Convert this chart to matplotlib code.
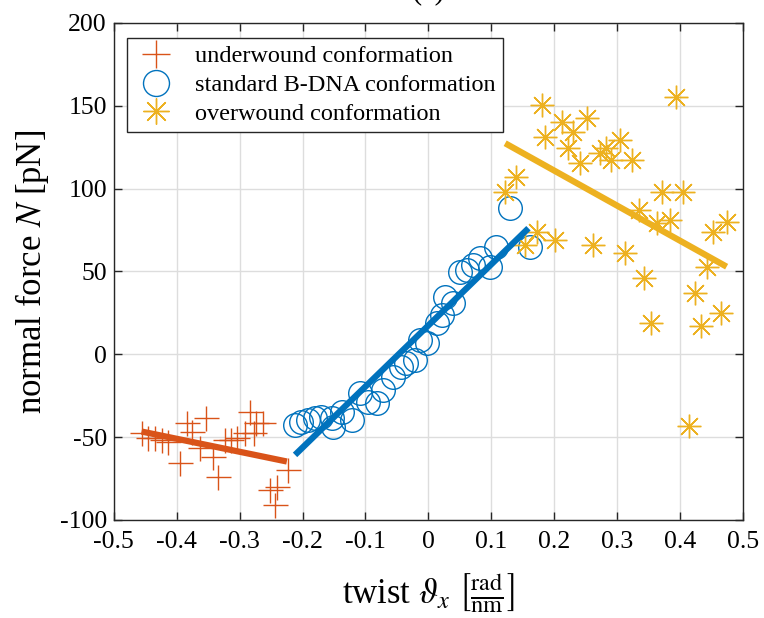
#import libraries
import matplotlib
matplotlib.use('Agg')
import matplotlib.pyplot as plt

plt.rcParams['font.family'] = ['Liberation Serif', 'DejaVu Serif']
plt.rcParams['mathtext.fontset'] = 'stix'
plt.rcParams['axes.unicode_minus'] = False

#Data Definition
under_x = [-0.456, -0.445, -0.435, -0.424, -0.414, -0.395, -0.384, -0.376, -0.354, -0.363,
           -0.343, -0.334, -0.324, -0.313, -0.305, -0.292, -0.284, -0.277, -0.274, -0.263,
           -0.252, -0.241, -0.244, -0.223]
under_y = [-47.6, -50.6, -50.6, -51.7, -52.7, -65.7, -41.6, -46.6, -38.6, -56.7,
           -62.1, -73.8, -51.7, -51.7, -50.6, -47.6, -34.6, -47.6, -41.6, -41.6,
           -81.8, -79.8, -91.0, -69.8]

std_x = [-0.212, -0.202, -0.191, -0.180, -0.170, -0.154, -0.151, -0.138, -0.122, -0.109,
         -0.096, -0.082, -0.072, -0.056, -0.043, -0.035, -0.021, -0.014, -0.003, 0.013,
         0.021, 0.026, 0.039, 0.050, 0.061, 0.071, 0.082, 0.098, 0.108, 0.130, 0.161]
std_y = [-42.6, -40.6, -39.6, -38.6, -37.6, -38.6, -43.6, -34.6, -39.6, -23.5,
         -28.5, -29.5, -21.5, -13.5, -7.4, -5.4, -3.4, 8.7, 6.7, 18.8,
         23.8, 34.8, 30.8, 49.9, 50.9, 53.9, 58.0, 52.9, 65.0, 88.2, 65.0]

over_x = [0.180, 0.185, 0.212, 0.230, 0.222, 0.252, 0.241, 0.273, 0.283, 0.291,
          0.304, 0.323, 0.393, 0.140, 0.122, 0.172, 0.153, 0.201, 0.262, 0.312,
          0.334, 0.372, 0.404, 0.363, 0.384, 0.453, 0.474, 0.343, 0.424, 0.353,
          0.434, 0.465, 0.443, 0.414]
over_y = [150.5, 131.4, 140.4, 134.4, 124.4, 142.5, 115.3, 121.4, 124.4, 117.3,
          129.4, 117.3, 155.5, 107.2, 98.2, 74.0, 66.0, 69.0, 66.0, 61.4,
          87.1, 98.2, 98.2, 79.1, 81.1, 74.0, 80.1, 46.3, 37.2, 19.1,
          17.1, 25.2, 52.9, -43.2]

#Fit lines (end points)
under_fit_x = [-0.456, -0.225]
under_fit_y = [-46.6, -64.7]
std_fit_x = [-0.212, 0.159]
std_fit_y = [-60.7, 76.1]
over_fit_x = [0.122, 0.474]
over_fit_y = [127.4, 52.9]

c_red = '#D95319'
c_blue = '#0072BD'
c_yel = '#EDB120'

#Create Figure
fig = plt.figure(figsize=(7.64, 6.18), dpi=100)
ax = fig.add_axes([0.149, 0.1586, 0.8235, 0.8042])

ax.plot(under_x, under_y, ls='none', marker='+', ms=18, mew=1.0, color=c_red,
        label='underwound conformation')
ax.plot(std_x, std_y, ls='none', marker='o', ms=17, mew=1.0, mfc='none', color=c_blue,
        label='standard B-DNA conformation')
ax.plot(over_x, over_y, ls='none', marker=(8, 2, 0), ms=17, mew=1.0, color=c_yel,
        label='overwound conformation')

ax.plot(under_fit_x, under_fit_y, color=c_red, lw=4.5, solid_capstyle='butt')
ax.plot(std_fit_x, std_fit_y, color=c_blue, lw=4.5, solid_capstyle='butt')
ax.plot(over_fit_x, over_fit_y, color=c_yel, lw=4.5, solid_capstyle='butt')

#Modify figure's appearance
ax.set_xlim(-0.5, 0.5)
ax.set_ylim(-100, 200)
ax.set_xticks([i / 10 for i in range(-5, 6)])
ax.set_xticklabels(['-0.5', '-0.4', '-0.3', '-0.2', '-0.1', '0', '0.1', '0.2', '0.3', '0.4', '0.5'])
ax.set_yticks(range(-100, 201, 50))
ax.set_yticklabels(['-100', '-50', '0', '50', '100', '150', '200'])
ax.grid(True, color='#dddddd', lw=1.0)
ax.set_axisbelow(True)
ax.tick_params(direction='in', top=True, right=True, labelsize=18.5, length=6, width=1,
               color='#262626')
ax.tick_params(axis='x', pad=8)
ax.tick_params(axis='y', pad=5)
for s in ax.spines.values():
    s.set_color('#262626')
    s.set_linewidth(1.0)

ax.set_xlabel(r'twist $\vartheta_x$ $\left[\frac{\mathrm{rad}}{\mathrm{nm}}\right]$', fontsize=25, labelpad=13)
ax.set_ylabel(r'normal force $N$ [pN]', fontsize=25, labelpad=6)
ax.set_title('(c)', fontsize=22, pad=18)

leg = ax.legend(loc='upper left', bbox_to_anchor=(0.0207, 0.970), fontsize=17.5, frameon=True,
                fancybox=False, edgecolor='#262626', framealpha=1, handletextpad=0.7,
                borderpad=0.3, labelspacing=0.28, handlelength=1.8, borderaxespad=0,
                markerscale=1.1)
leg.get_frame().set_linewidth(1.0)

#Show/Save Plot
plt.savefig('out.png', dpi=100)
